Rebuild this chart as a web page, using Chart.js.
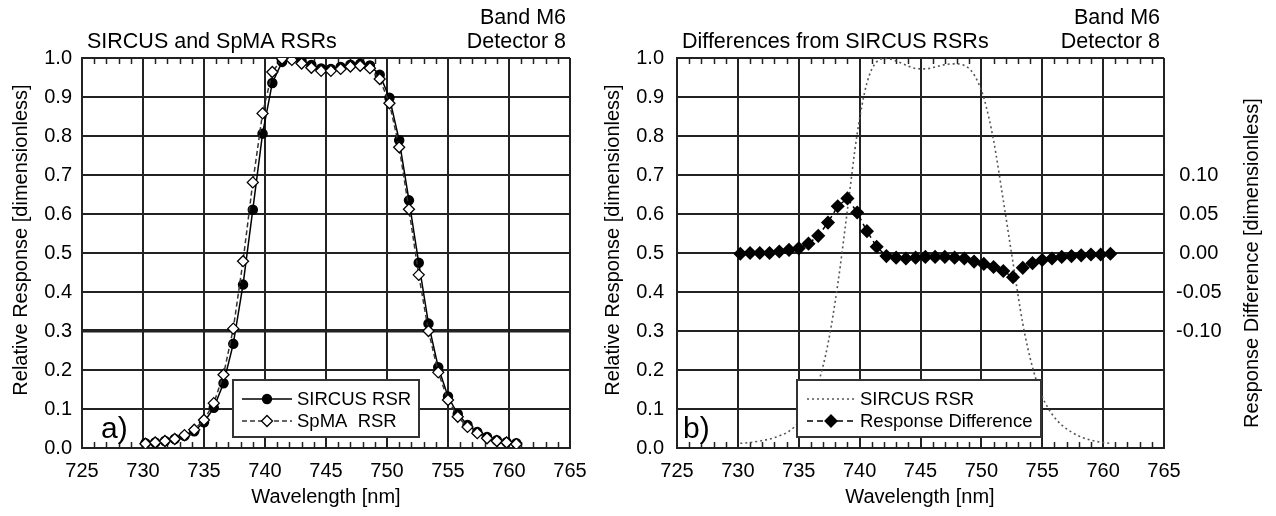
<!DOCTYPE html>
<html>
<head>
<meta charset="utf-8">
<script src="https://cdn.jsdelivr.net/npm/chart.js@4.4.1/dist/chart.umd.min.js"></script>
<style>
  body { margin: 0; background: #fff; width: 1276px; height: 516px; overflow: hidden; position: relative; }
  canvas { position: absolute; top: 0; }
</style>
</head>
<body>
<canvas id="chartA" width="600" height="516" style="left:0px"></canvas>
<canvas id="chartB" width="678" height="516" style="left:598px"></canvas>
<script>
// Band M6, detector 8 - wavelengths in nm
const wavelength = [730.2, 731.0, 731.8, 732.6, 733.4, 734.2, 735.0, 735.8, 736.6, 737.4,
    738.2, 739.0, 739.8, 740.6, 741.4, 742.2, 743.0, 743.8, 744.6, 745.4,
    746.2, 747.0, 747.8, 748.6, 749.4, 750.2, 751.0, 751.8, 752.6, 753.4,
    754.2, 755.0, 755.8, 756.6, 757.4, 758.2, 759.0, 759.8, 760.6];

const sircusRSR = [0.012, 0.014, 0.018, 0.023, 0.031, 0.043, 0.066, 0.103, 0.166, 0.267,
    0.419, 0.611, 0.806, 0.936, 0.990, 0.999, 0.992, 0.982, 0.973, 0.972,
    0.977, 0.983, 0.985, 0.981, 0.957, 0.898, 0.789, 0.635, 0.475, 0.319,
    0.207, 0.132, 0.087, 0.059, 0.041, 0.028, 0.020, 0.015, 0.012];

const spmaRSR = [0.011, 0.014, 0.018, 0.023, 0.033, 0.047, 0.072, 0.115, 0.188, 0.306,
    0.479, 0.681, 0.858, 0.964, 0.998, 0.995, 0.986, 0.975, 0.967, 0.967,
    0.972, 0.978, 0.980, 0.974, 0.946, 0.884, 0.771, 0.612, 0.444, 0.300,
    0.194, 0.123, 0.080, 0.054, 0.038, 0.025, 0.018, 0.014, 0.010];

const responseDiff = [-0.001, 0.000, 0.000, 0.000, 0.002, 0.004, 0.006, 0.012, 0.022, 0.039,
    0.060, 0.070, 0.052, 0.028, 0.008, -0.004, -0.006, -0.007, -0.006, -0.005,
    -0.005, -0.005, -0.006, -0.007, -0.011, -0.014, -0.018, -0.023, -0.031, -0.019,
    -0.013, -0.009, -0.007, -0.005, -0.004, -0.003, -0.002, -0.002, -0.001];

const diffTickLabels = [-0.10, -0.05, 0.00, 0.05, 0.10];

const FONT = "'Liberation Sans', Arial, sans-serif";
Chart.defaults.font.family = FONT;
Chart.defaults.color = '#000';

function pts(ys) {
    return wavelength.map((w, i) => ({ x: w, y: ys[i] }));
}

// little marker helper for the hand drawn legend
function marker(ctx, style, x, y, r, fill) {
    ctx.save();
    ctx.setLineDash([]);
    ctx.beginPath();
    if (style === 'circle') {
        ctx.arc(x, y, r, 0, Math.PI * 2);
    } else {
        ctx.moveTo(x, y - r); ctx.lineTo(x + r, y); ctx.lineTo(x, y + r); ctx.lineTo(x - r, y); ctx.closePath();
    }
    ctx.fillStyle = fill;
    ctx.fill();
    ctx.strokeStyle = '#000';
    ctx.lineWidth = 1.3;
    ctx.stroke();
    ctx.restore();
}

// minor ticks every 1 nm on top and bottom edges, pointing inward
const minorTicks = {
    id: 'minorTicks',
    beforeDatasetsDraw(chart) {
        const { ctx, chartArea } = chart;
        const x = chart.scales.x;
        ctx.save();
        ctx.strokeStyle = '#222';
        ctx.lineWidth = 1.5;
        for (let w = 726; w < 765; w++) {
            if (w % 5 === 0) continue;
            const px = Math.round(x.getPixelForValue(w)) + 0.5;
            ctx.beginPath();
            ctx.moveTo(px, chartArea.bottom); ctx.lineTo(px, chartArea.bottom - 6);
            ctx.moveTo(px, chartArea.top); ctx.lineTo(px, chartArea.top + 6);
            ctx.stroke();
        }
        ctx.restore();
    }
};

// titles, axis titles, panel letter and the boxed legend
const decorations = {
    id: 'decorations',
    afterDraw(chart, args, o) {
        const ctx = chart.ctx;
        ctx.save();
        ctx.fillStyle = '#000';
        ctx.textBaseline = 'alphabetic';
        ctx.font = '21.5px ' + FONT;
        ctx.textAlign = 'left';
        ctx.fillText(o.title, o.titleX, 48);
        ctx.textAlign = 'right';
        ctx.fillText('Band M6', o.bandX, 24);
        ctx.fillText('Detector 8', o.bandX, 48);

        ctx.font = '30px ' + FONT;
        ctx.textAlign = 'left';
        ctx.fillText(o.letter, o.letterX, 438);

        ctx.font = '20px ' + FONT;
        ctx.textAlign = 'center';
        ctx.textBaseline = 'middle';
        ctx.fillText('Wavelength [nm]', o.xTitleX, 497);
        o.yTitles.forEach(t => {
            ctx.save();
            ctx.translate(t.x, t.y);
            ctx.rotate(-Math.PI / 2);
            ctx.fillText(t.text, 0, 0);
            ctx.restore();
        });

        // legend box
        const L = o.legend;
        ctx.fillStyle = '#fff';
        ctx.fillRect(L.x, L.y, L.w, L.h);
        ctx.strokeStyle = '#333';
        ctx.lineWidth = 2;
        ctx.strokeRect(L.x, L.y, L.w, L.h);
        ctx.font = '18.5px ' + FONT;
        ctx.textAlign = 'left';
        L.rows.forEach((r, i) => {
            const y = L.rowY[i];
            ctx.save();
            ctx.strokeStyle = r.color;
            ctx.lineWidth = 1.5;
            ctx.setLineDash(r.dash);
            ctx.beginPath();
            ctx.moveTo(L.lineX0, y); ctx.lineTo(L.lineX1, y);
            ctx.stroke();
            ctx.restore();
            if (r.marker) marker(ctx, r.marker, (L.lineX0 + L.lineX1) / 2, y, r.r, r.fill);
            ctx.fillStyle = '#000';
            ctx.fillText(r.label, L.textX, y + 1);
        });
        ctx.restore();
    }
};

function xScale() {
    return {
        type: 'linear', min: 725, max: 765,
        ticks: { stepSize: 5, font: { size: 20 }, padding: 11, maxRotation: 0 },
        grid: { color: '#222', lineWidth: 2, drawTicks: false },
        border: { color: '#222', width: 2 },
        afterFit: s => { s.height = 68; }
    };
}

function yScale(width, thick) {
    return {
        type: 'linear', position: 'left', min: 0, max: 1,
        ticks: { stepSize: 0.1, font: { size: 20 }, padding: width === 82 ? 10 : 13, callback: v => v.toFixed(1) },
        grid: {
            color: '#222', drawTicks: false,
            lineWidth: c => (thick && c.tick && Math.abs(c.tick.value - 0.3) < 1e-6) ? 3.5 : 2
        },
        border: { color: '#222', width: 2 },
        afterFit: s => { s.width = width; }
    };
}

// a) SIRCUS and SpMA RSRs
new Chart(document.getElementById('chartA'), {
    type: 'line',
    data: {
        datasets: [{
            label: 'SIRCUS RSR',
            data: pts(sircusRSR),
            borderColor: '#000',
            borderWidth: 1.5,
            pointStyle: 'circle',
            pointRadius: 4.5,
            pointBackgroundColor: '#000',
            pointBorderColor: '#000',
            order: 2
        }, {
            label: 'SpMA  RSR',
            data: pts(spmaRSR),
            borderColor: '#333',
            borderWidth: 1.5,
            borderDash: [5, 3],
            pointStyle: 'rectRot',
            pointRadius: 5.5,
            pointBackgroundColor: '#fff',
            pointBorderColor: '#000',
            pointBorderWidth: 1.3,
            order: 1
        }]
    },
    options: {
        responsive: false,
        animation: false,
        layout: { padding: { top: 58, right: 30, left: 0, bottom: 0 } },
        plugins: {
            legend: { display: false },
            tooltip: { enabled: false },
            decorations: {
                title: 'SIRCUS and SpMA RSRs', titleX: 87, bandX: 566,
                letter: 'a)', letterX: 101, xTitleX: 326,
                yTitles: [{ text: 'Relative Response [dimensionless]', x: 21, y: 240 }],
                legend: {
                    x: 233, y: 380, w: 186, h: 57, rowY: [399, 421],
                    lineX0: 242, lineX1: 292, textX: 297,
                    rows: [
                        { label: 'SIRCUS RSR', color: '#000', dash: [], marker: 'circle', r: 4.5, fill: '#000' },
                        { label: 'SpMA  RSR', color: '#333', dash: [5, 3], marker: 'diamond', r: 5.5, fill: '#fff' }
                    ]
                }
            }
        },
        scales: { x: xScale(), y: yScale(82, true) }
    },
    plugins: [minorTicks, decorations]
});

// b) differences from SIRCUS RSRs
new Chart(document.getElementById('chartB'), {
    type: 'line',
    data: {
        datasets: [{
            label: 'SIRCUS RSR',
            data: pts(sircusRSR),
            yAxisID: 'y',
            borderColor: '#555',
            borderWidth: 1.6,
            borderDash: [2, 3],
            pointRadius: 0,
            cubicInterpolationMode: 'monotone',
            order: 2
        }, {
            label: 'Response Difference',
            data: pts(responseDiff),
            yAxisID: 'y2',
            borderColor: '#000',
            borderWidth: 1.5,
            borderDash: [6, 4],
            pointStyle: 'rectRot',
            pointRadius: 6,
            pointBackgroundColor: '#000',
            pointBorderColor: '#000',
            order: 1
        }]
    },
    options: {
        responsive: false,
        animation: false,
        layout: { padding: { top: 58, right: 0, left: 0, bottom: 0 } },
        plugins: {
            legend: { display: false },
            tooltip: { enabled: false },
            decorations: {
                title: 'Differences from SIRCUS RSRs', titleX: 84, bandX: 562,
                letter: 'b)', letterX: 85, xTitleX: 322,
                yTitles: [
                    { text: 'Relative Response [dimensionless]', x: 15, y: 240 },
                    { text: 'Response Difference [dimensionless]', x: 654, y: 263 }
                ],
                legend: {
                    x: 199, y: 380, w: 244, h: 57, rowY: [399, 421],
                    lineX0: 209, lineX1: 257, textX: 262,
                    rows: [
                        { label: 'SIRCUS RSR', color: '#555', dash: [2, 3] },
                        { label: 'Response Difference', color: '#000', dash: [6, 4], marker: 'diamond', r: 6, fill: '#000' }
                    ]
                }
            }
        },
        scales: {
            x: xScale(),
            y: yScale(79, false),
            y2: {
                type: 'linear', position: 'right', min: -0.25, max: 0.25,
                ticks: {
                    stepSize: 0.05, font: { size: 20 }, padding: 12, crossAlign: 'center',
                    callback: v => {
                        const hit = diffTickLabels.find(t => Math.abs(t - v) < 1e-6);
                        return hit === undefined ? '' : hit.toFixed(2);
                    }
                },
                grid: { display: false, drawTicks: false },
                border: { display: false },
                afterFit: s => { s.width = 112; }
            }
        }
    },
    plugins: [minorTicks, decorations]
});
</script>
</body>
</html>
